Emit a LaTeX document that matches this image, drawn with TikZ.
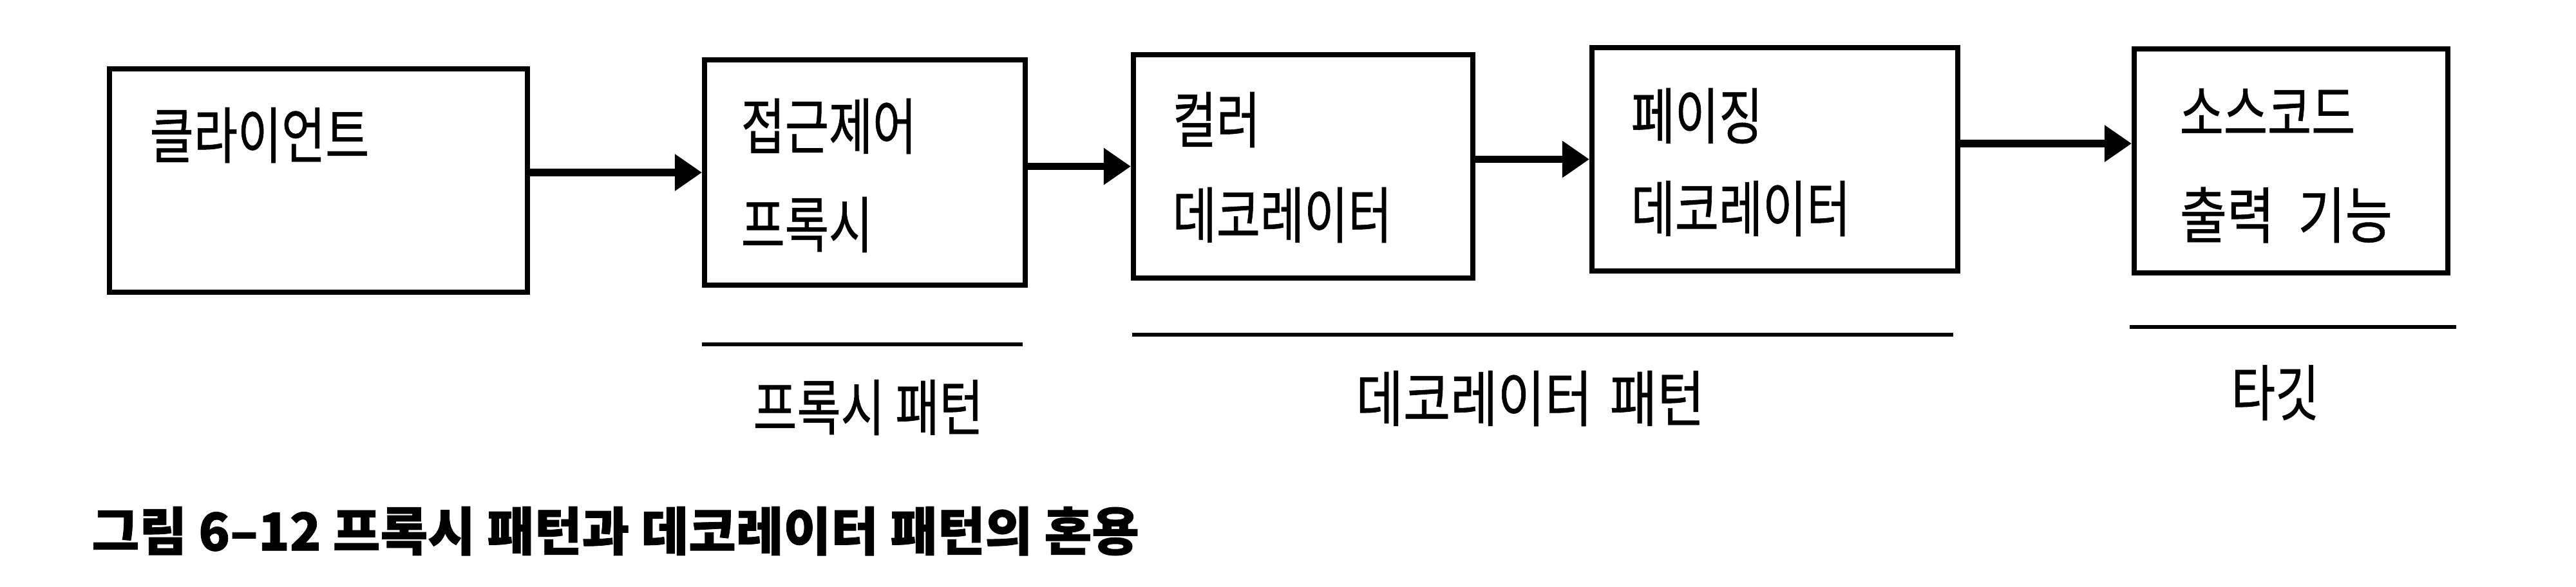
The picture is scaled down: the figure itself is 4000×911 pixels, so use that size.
\documentclass[tikz,border=0pt]{standalone}
\usepackage{fontspec}
\newfontfamily\kr[FakeStretch=0.78,FakeBold=0.6]{Noto Sans CJK KR}
\newfontfamily\krwide[FakeStretch=0.84,FakeBold=0.6]{Noto Sans CJK KR}
\newfontfamily\krcap[FakeStretch=0.99,FakeBold=1]{Noto Sans CJK KR}
\usetikzlibrary{arrows.meta,calc}
\begin{document}
\begin{tikzpicture}[x=0.01cm,y=-0.01cm,
  box/.style={draw=black,line width=2.3pt,inner sep=0pt},
  txt/.style={inner sep=0pt,anchor=west,font=\kr\fontsize{27}{32}\selectfont},
  lbl/.style={inner sep=0pt,font=\kr\fontsize{27}{32}\selectfont},
  arr/.style={line width=3.2pt,-{Triangle[length=12pt,width=15.6pt]}},
  uline/.style={line width=1.5pt}]
\useasboundingbox (0,0) rectangle (4000,911);
\fill[white] (0,0) rectangle (4000,911);
% boxes
\node[box,minimum width=649*0.01cm,minimum height=347*0.01cm] (client) at (494.5,280.5) {};
\node[box,minimum width=498*0.01cm,minimum height=350*0.01cm] (proxy) at (1343,268) {};
\node[box,minimum width=527*0.01cm,minimum height=347*0.01cm] (color) at (2023.5,258.5) {};
\node[box,minimum width=568*0.01cm,minimum height=347*0.01cm] (paging) at (2756,247.5) {};
\node[box,minimum width=487*0.01cm,minimum height=348*0.01cm] (source) at (3557.5,250) {};
% box texts
\node[txt] (clientT) at (232,210) {클라이언트};
\node[txt] (proxyT1) at (1150,196) {접근제어};
\node[txt] (proxyT2) at (1150,349) {프록시};
\node[txt] (colorT1) at (1820,186) {컬러};
\node[txt] (colorT2) at (1820,334) {데코레이터};
\node[txt] (pagingT1) at (2532,180) {페이징};
\node[txt] (pagingT2) at (2532,324) {데코레이터};
\node[txt] (sourceT1) at (3384,174) {소스코드};
\node[txt,font=\krwide\fontsize{27}{32}\selectfont] (sourceT2) at (3384,334) {출력\hspace{0.2em} 기능};
% arrows
\coordinate (a4) at ($(source.west)+(0,-27)$);
\draw[arr] (client.east |- proxy.west) -- (proxy.west);
\draw[arr] (proxy.east |- color.west) -- (color.west);
\draw[arr] (color.east |- paging.west) -- (paging.west);
\draw[arr] (paging.east |- a4) -- (a4);
% underlines
\coordinate (pl1) at (1090,535); \coordinate (pl2) at (1588,535);
\coordinate (dl1) at (1758,520); \coordinate (dl2) at (3033,520);
\coordinate (tl1) at (3307,508); \coordinate (tl2) at (3814,508);
\draw[uline] (pl1) -- (pl2);
\draw[uline] (dl1) -- (dl2);
\draw[uline] (tl1) -- (tl2);
% labels
\node[lbl] (proxyL) at (1348,633) {프록시 패턴};
\node[lbl,font=\krwide\fontsize{27}{32}\selectfont] (decoL) at (2376,619) {데코레이터\hspace{0.1em} 패턴};
\node[lbl] (targetL) at (3533,610) {타깃};
% caption
\node[inner sep=0pt,anchor=west,font=\krcap\bfseries\fontsize{23}{28}\selectfont] (caption) at (142,825) {그림 6–12 프록시 패턴과 데코레이터 패턴의 혼용};
\end{tikzpicture}
\end{document}
